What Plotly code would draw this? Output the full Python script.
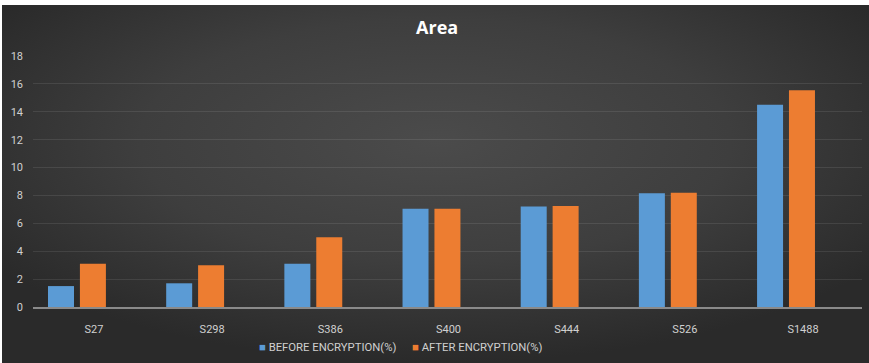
import base64
import plotly.graph_objects as go

# Sample sets and their area overhead before/after encryption (%)
samples = ["S27", "S298", "S386", "S400", "S444", "S526", "S1488"]
before_encryption = [1.5, 1.7, 3.1, 7.05, 7.2, 8.15, 14.5]
after_encryption = [3.1, 3.0, 5.0, 7.05, 7.25, 8.2, 15.55]
y_ticks = [0, 2, 4, 6, 8, 10, 12, 14, 16, 18]
series_names = ["BEFORE ENCRYPTION(%)", "AFTER ENCRYPTION(%)"]
series_colors = ["#5b9bd5", "#ed7d31"]

W, H = 869, 363
L, R, T, B = 33, 7, 56, 56
plot_w, plot_h = W - L - R, H - T - B

# Dark radial backdrop as an inline SVG
svg = (
    '<svg xmlns="http://www.w3.org/2000/svg" width="867" height="358" viewBox="0 0 867 358" '
    'preserveAspectRatio="none">'
    '<defs><radialGradient id="g" cx="0.5" cy="0.38" r="0.62">'
    '<stop offset="0" stop-color="#4b4b4b"/>'
    '<stop offset="0.55" stop-color="#3e3e3e"/>'
    '<stop offset="1" stop-color="#2a2a2a"/>'
    '</radialGradient></defs>'
    '<rect width="867" height="358" fill="url(#g)"/></svg>'
)
bg_src = "data:image/svg+xml;base64," + base64.b64encode(svg.encode()).decode()

font_family = "Roboto, Arial, sans-serif"
text_color = "#d0d0d0"

fig = go.Figure()
fig.add_trace(go.Bar(
    name=series_names[0], x=samples, y=before_encryption,
    marker=dict(color=series_colors[0], line=dict(width=0)),
    width=0.22, offset=-0.245,
))
fig.add_trace(go.Bar(
    name=series_names[1], x=samples, y=after_encryption,
    marker=dict(color=series_colors[1], line=dict(width=0)),
    width=0.22, offset=0.025,
))

# Compact legend row under the axis: small colour square + label
legend_left_px = [257, 410]
annotations = []
for name, color, left_px in zip(series_names, series_colors, legend_left_px):
    annotations.append(dict(
        text=f'<span style="color:{color}">■</span> {name}',
        xref="paper", yref="paper",
        x=(left_px - L) / plot_w, y=(H - B - 347) / plot_h,
        xanchor="left", yanchor="middle", showarrow=False,
        font=dict(family=font_family, size=11.3, color=text_color),
    ))

fig.update_layout(
    width=W, height=H,
    margin=dict(l=L, r=R, t=T, b=B, pad=0),
    paper_bgcolor="white",
    plot_bgcolor="rgba(0,0,0,0)",
    barmode="group",
    showlegend=False,
    font=dict(family=font_family, color=text_color, size=11),
    title=dict(
        text="<b>Area</b>", x=0.503, xanchor="center",
        yref="container", y=1 - 28 / H, yanchor="middle",
        font=dict(family="Open Sans, Arial, sans-serif", size=18, color="#ffffff"),
    ),
    annotations=annotations,
    xaxis=dict(
        type="category", range=[-0.372, 6.643],
        showgrid=False, showline=True, linecolor="#8a8a8a", linewidth=1.5,
        ticks="", ticklabelshift=17, ticklabelstandoff=11,
        tickfont=dict(family=font_family, size=11, color=text_color),
        fixedrange=True,
    ),
    yaxis=dict(
        range=[0, 18], tickvals=y_ticks,
        showgrid=True, gridcolor="rgba(255,255,255,0.09)", gridwidth=1,
        zeroline=False, showline=False, ticks="", ticklabelstandoff=9,
        tickfont=dict(family=font_family, size=11, color=text_color),
        fixedrange=True,
    ),
    images=[dict(
        source=bg_src, xref="paper", yref="paper",
        x=(2 - L) / plot_w, y=(H - B - 5) / plot_h,
        sizex=(W - 2) / plot_w, sizey=(H - 5) / plot_h,
        xanchor="left", yanchor="top", sizing="stretch", layer="below",
    )],
)

fig.write_html("out.html")
